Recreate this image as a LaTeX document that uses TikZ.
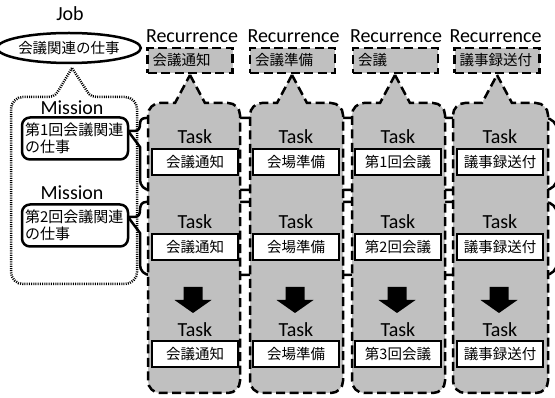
\documentclass[tikz,border=0pt]{standalone}
\usepackage{fontspec}
\setmainfont{Carlito}
\newfontfamily\jpfont{Noto Sans CJK JP}
\usetikzlibrary{shapes.geometric}
\definecolor{colgrey}{RGB}{192,192,192}
\begin{document}
\begin{tikzpicture}[x=1pt,y=-1pt,
  thickline/.style={line width=2.5pt},
  dashline/.style={line width=2.5pt, dash pattern=on 9pt off 4.5pt},
  dotline/.style={line width=2.5pt, dash pattern=on 1pt off 1.2pt},
  lab/.style={font=\fontsize{20}{24}\selectfont, anchor=base, inner sep=0pt},
  jpsmall/.style={font=\jpfont\fontsize{14.5}{17}\selectfont},
  taskbox/.style={jpsmall, draw, thickline, fill=white, minimum width=86pt, minimum height=26pt, inner sep=0pt},
  recbox/.style={jpsmall, draw, dashline, fill=colgrey, minimum width=85pt, minimum height=25pt, inner xsep=5pt, inner ysep=0pt, text width=75pt, align=left},
  missionbox/.style={font=\jpfont\fontsize{15}{17}\selectfont, draw, thickline, fill=white, rounded corners=8pt, minimum height=42pt, inner xsep=3pt, inner ysep=0pt, text width=100pt, align=left},
  jobellipse/.style={jpsmall, draw, thickline, ellipse, fill=white, minimum width=122pt, minimum height=30pt, inner sep=0pt},
  rowline/.style={thickline, line join=round},
  colshape/.style={dashline, fill=colgrey},
  blockarrow/.style={fill=black}
]
\useasboundingbox (0,0) rectangle (555,398);

% mission container (dotted callout)
\draw[dotline, fill=white] (72,68) -- (60,88) .. controls (57,93) and (55,97) .. (48,97) -- (23,97)
  arc[start angle=270, end angle=180, radius=12] -- (11,272)
  arc[start angle=180, end angle=90, radius=12] -- (125,284)
  arc[start angle=90, end angle=0, radius=12] -- (137,109)
  arc[start angle=0, end angle=-90, radius=12] -- (97,97)
  .. controls (90,97) and (88,93) .. (85,88) -- cycle;

% job
\node[lab] (joblab) at (70,21) {Job};
\node[jobellipse] (job) at (69,48) {会議関連の仕事};

% mission labels
\node[lab] (mlab1) at (72,115) {Mission};
\node[lab] (mlab2) at (72,200) {Mission};

% rows (solid callouts)
\draw[rowline] (128,131) -- (134,131) .. controls (139,131) and (140,128) .. (140,124)
  .. controls (140,120) and (142,118) .. (146,118) -- (545,118)
  arc[start angle=270, end angle=360, radius=12] -- (557,178)
  arc[start angle=0, end angle=90, radius=12] -- (150,190)
  arc[start angle=90, end angle=180, radius=10] -- (140,147) -- cycle;
\draw[rowline] (128,217) -- (134,217) .. controls (139,217) and (140,214) .. (140,210)
  .. controls (140,205) and (142,202) .. (146,202) -- (545,202)
  arc[start angle=270, end angle=360, radius=12] -- (557,263)
  arc[start angle=0, end angle=90, radius=12] -- (150,275)
  arc[start angle=90, end angle=180, radius=10] -- (140,233) -- cycle;

% mission boxes
\node[missionbox] (m1) at (75,138.5) {第1回会議関連\\の仕事};
\node[missionbox] (m2) at (75,225.5) {第2回会議関連\\の仕事};

% columns (grey dashed callouts)
\foreach \L/\R/\ax in {148/240/190, 250/343/292, 352/445/395, 453/548/497}{
  \draw[colshape] (\ax,75) -- (\ax+15,103) -- (\R-12,103)
    arc[start angle=270, end angle=360, radius=12] -- (\R,381)
    arc[start angle=0, end angle=90, radius=12] -- (\L+12,393)
    arc[start angle=90, end angle=180, radius=12] -- (\L,115)
    arc[start angle=180, end angle=270, radius=12] -- (\ax-15,103) -- cycle;
}

% recurrence labels and boxes
\node[lab] (rl1) at (192,43) {Recurrence};
\node[lab] (rl2) at (293.5,43) {Recurrence};
\node[lab] (rl3) at (396,43) {Recurrence};
\node[lab] (rl4) at (495.5,43) {Recurrence};
\node[recbox] (r1) at (190,60.5) {会議通知};
\node[recbox] (r2) at (292.5,60.5) {会議準備};
\node[recbox] (r3) at (395.5,60.5) {会議};
\node[recbox] (r4) at (497,60.5) {議事録送付};

% tasks
\foreach \c/\i in {195/1, 296/2, 398/3, 500/4}{
  \node[lab] (tl1\i) at (\c,144) {Task};
  \node[lab] (tl2\i) at (\c,229) {Task};
  \node[lab] (tl3\i) at (\c,337) {Task};
}
\node[taskbox] (t11) at (195,162) {会議通知};
\node[taskbox] (t12) at (296,162) {会場準備};
\node[taskbox] (t13) at (398,162) {第1回会議};
\node[taskbox] (t14) at (500,162) {議事録送付};
\node[taskbox] (t21) at (195,247) {会議通知};
\node[taskbox] (t22) at (296,247) {会場準備};
\node[taskbox] (t23) at (398,247) {第2回会議};
\node[taskbox] (t24) at (500,247) {議事録送付};
\node[taskbox] (t31) at (195,354) {会議通知};
\node[taskbox] (t32) at (296,354) {会場準備};
\node[taskbox] (t33) at (398,354) {第3回会議};
\node[taskbox] (t34) at (500,354) {議事録送付};

% block arrows
\foreach \c in {193,295,397,499}{
  \fill[blockarrow] (\c-9.5,287) -- (\c+9.5,287) -- (\c+9.5,300) -- (\c+18.5,300)
    -- (\c,313) -- (\c-18.5,300) -- (\c-9.5,300) -- cycle;
}
\end{tikzpicture}
\end{document}
